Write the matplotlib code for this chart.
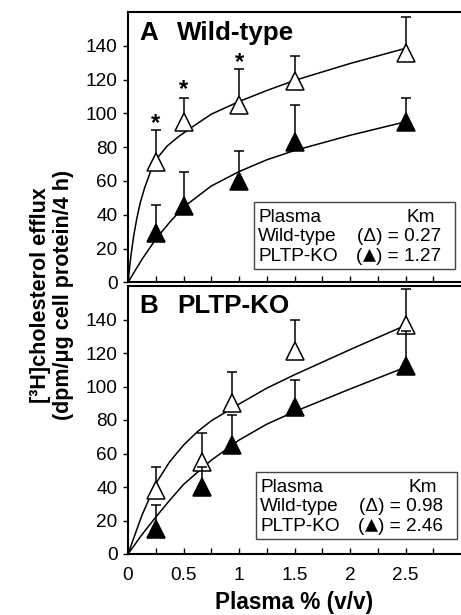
import matplotlib
matplotlib.use('Agg')
import matplotlib.pyplot as plt
from matplotlib.patches import Rectangle
from matplotlib.lines import Line2D
from matplotlib.ticker import FixedLocator

plt.rcParams['font.family'] = ['Liberation Sans', 'DejaVu Sans']

# ---------------- data ----------------
# Panel A (Wild-type cells)
xA = [0.25, 0.5, 1.0, 1.5, 2.5]
a_wt = [71, 95, 105, 119, 136]
a_wt_err = [19, 14, 21, 15, 21]
a_ko = [29, 45, 60, 83, 95]
a_ko_err = [17, 20, 18, 22, 14]
star_x = [0.25, 0.5, 1.0]
star_y = [98, 118, 134.5]

# fitted curves, panel A
fitA_wt_x = [0, 0.025, 0.05, 0.08, 0.11, 0.15, 0.2, 0.27, 0.35, 0.45, 0.58, 0.75, 1.0, 1.25, 1.5, 2.0, 2.5]
fitA_wt_y = [0, 15, 27, 38, 47, 56, 65, 74, 80.5, 86, 92, 99.5, 107, 113.5, 119.5, 129.5, 138.5]
fitA_ko_x = [0, 0.125, 0.25, 0.375, 0.5, 0.75, 1.0, 1.25, 1.5, 2.0, 2.5]
fitA_ko_y = [0, 13.5, 25.5, 35.5, 44.5, 57, 65.5, 72.5, 78, 87, 95]

# Panel B (PLTP-KO cells)
xB = [0.25, 0.67, 0.94, 1.5, 2.5]
b_wt = [38, 55, 90, 121, 137]
b_wt_err = [14, 17.5, 18.5, 19, 21]
b_ko = [15, 40, 65, 88, 112]
b_ko_err = [14, 12, 18, 16, 21]

fitB_wt_x = [0, 0.125, 0.25, 0.375, 0.5, 0.625, 0.75, 1.0, 1.25, 1.5, 2.0, 2.5]
fitB_wt_y = [0, 23, 42, 55, 65, 73, 79.5, 89.5, 99, 107, 122, 136.5]
fitB_ko_x = [0, 0.125, 0.25, 0.375, 0.5, 0.75, 1.0, 1.25, 1.5, 2.0, 2.5]
fitB_ko_y = [0, 11.5, 22, 32, 41.5, 56, 68, 77.5, 85, 98.5, 111.5]

panel_letters = ['A', 'B']
panel_titles = ['Wild-type', 'PLTP-KO']
legend_head = ['Plasma', 'Km']
legend_rows = ['Wild-type', 'PLTP-KO']
km_wt = ['0.27', '0.98']
km_ko = ['1.27', '2.46']

x_major = [0, 0.5, 1, 1.5, 2, 2.5]
x_labels = ['0', '0.5', '1', '1.5', '2', '2.5']
x_minor = [0.25, 0.75, 1.25, 1.75, 2.25, 2.75]
y_ticks = [0, 20, 40, 60, 80, 100, 120, 140]

xlabel = 'Plasma % (v/v)'
ylabel = '[³H]cholesterol efflux\n(dpm/μg cell protein/4 h)'

# ---------------- layout ----------------
W, H, DPI = 461, 615, 100
fig = plt.figure(figsize=(W / DPI, H / DPI), dpi=DPI)

def fx(px):
    return px / W

def fy(py):
    return 1 - py / H

L, R = 128, 461
axA = fig.add_axes([fx(L), fy(282.3), (R - L) / W, (282.3 - 12) / H])
axB = fig.add_axes([fx(L), fy(554), (R - L) / W, (554 - 286) / H])

FS = 13.7
MS = 13.3

def style(ax, show_xlabels):
    ax.set_xlim(0, 3.0)
    ax.set_ylim(0, 160)
    for s in ['left', 'top', 'bottom']:
        ax.spines[s].set_linewidth(1.5)
    ax.spines['right'].set_visible(False)
    ax.xaxis.set_major_locator(FixedLocator(x_major))
    ax.xaxis.set_minor_locator(FixedLocator(x_minor))
    ax.set_yticks(y_ticks)
    ax.tick_params(axis='x', which='both', direction='in', length=4.5, width=1,
                   top=False, labelsize=FS, pad=9)
    ax.tick_params(axis='y', direction='out', length=3.5, width=1,
                   labelsize=FS, pad=4)
    if show_xlabels:
        ax.set_xticklabels(x_labels)
    else:
        ax.set_xticklabels([])

def draw(ax, x, wt, wt_err, ko, ko_err, fwx, fwy, fkx, fky):
    ax.plot(fwx, fwy, color='black', lw=1.1, zorder=2)
    ax.plot(fkx, fky, color='black', lw=1.1, zorder=2)
    ax.errorbar(x, wt, yerr=[[0] * len(wt), wt_err], fmt='none', ecolor='black',
                elinewidth=1.1, capsize=3.6, capthick=1.1, zorder=3)
    ax.plot(x, wt, linestyle='none', marker='^', ms=MS, mfc='white', mec='black',
            mew=1.1, zorder=4)
    ax.errorbar(x, ko, yerr=[[0] * len(ko), ko_err], fmt='none', ecolor='black',
                elinewidth=1.1, capsize=3.6, capthick=1.1, zorder=5)
    ax.plot(x, ko, linestyle='none', marker='^', ms=MS, mfc='black', mec='black',
            mew=1.1, zorder=6)

style(axA, False)
style(axB, True)
draw(axA, xA, a_wt, a_wt_err, a_ko, a_ko_err, fitA_wt_x, fitA_wt_y, fitA_ko_x, fitA_ko_y)
draw(axB, xB, b_wt, b_wt_err, b_ko, b_ko_err, fitB_wt_x, fitB_wt_y, fitB_ko_x, fitB_ko_y)

# asterisks
star_fs = 17
for sx, sy in zip(star_x, star_y):
    axA.annotate('*', (sx, sy), xytext=(0, -0.57 * star_fs), textcoords='offset points',
                 ha='center', va='baseline', fontsize=star_fs, fontweight='bold')

# panel titles
title_base = [40, 313]
for i in range(2):
    fig.text(fx(139), fy(title_base[i]), panel_letters[i], fontsize=18.7,
             fontweight='bold', ha='left', va='baseline')
    fig.text(fx(177), fy(title_base[i]), panel_titles[i], fontsize=18.7,
             fontweight='bold', ha='left', va='baseline')

# Km boxes
renderer = fig.canvas.get_renderer()
boxes = [(254, 202.3, 455, 269.3), (256, 472.3, 456.7, 539.3)]
kms = [(km_wt[0], km_ko[0]), (km_wt[1], km_ko[1])]
for i, (x0, y0, x1, y1) in enumerate(boxes):
    fig.patches.append(Rectangle((fx(x0), fy(y1)), (x1 - x0) / W, (y1 - y0) / H,
                                 transform=fig.transFigure, fill=True, facecolor='white',
                                 edgecolor='#444444', lw=1.0, zorder=10))
    bl = [y0 + 20, y0 + 39, y0 + 59]
    tx = x0 + 4
    rx = x1 - 14
    fig.text(fx(tx), fy(bl[0]), legend_head[0], fontsize=FS, ha='left', va='baseline', zorder=11)
    fig.text(fx(rx - 6), fy(bl[0]), legend_head[1], fontsize=FS, ha='right', va='baseline', zorder=11)
    for j in range(2):
        fig.text(fx(tx), fy(bl[j + 1]), legend_rows[j], fontsize=FS, ha='left',
                 va='baseline', zorder=11)
        if j == 0:
            fig.text(fx(rx), fy(bl[j + 1]), f'(Δ) = {kms[i][j]}', fontsize=FS,
                     ha='right', va='baseline', zorder=11)
        else:
            # "(" + filled triangle + ") = value", triangle drawn as a marker
            t_r = fig.text(fx(rx), fy(bl[j + 1]), f') = {kms[i][j]}', fontsize=FS,
                           ha='right', va='baseline', zorder=11)
            bb = t_r.get_window_extent(renderer)
            tri_w = 12.7
            cx = bb.x0 - tri_w / 2 - 0.3
            cy = (H - bl[j + 1]) + 6.6
            fig.lines.append(Line2D([cx / W], [cy / H], transform=fig.transFigure,
                                    marker='^', ms=8.7, mfc='black', mec='black',
                                    mew=0.4, linestyle='none', zorder=12))
            fig.text((bb.x0 - tri_w - 0.6) / W, fy(bl[j + 1]), '(', fontsize=FS,
                     ha='right', va='baseline', zorder=11)

# axis labels
fig.text(fx(294), fy(603), xlabel, fontsize=16.3, fontweight='bold', ha='center', va='center')
fig.text(fx(52), fy(295), ylabel, fontsize=15.5, fontweight='bold', ha='center', va='center',
         rotation=90, multialignment='center', linespacing=1.15)

fig.savefig('out.png', dpi=DPI)
